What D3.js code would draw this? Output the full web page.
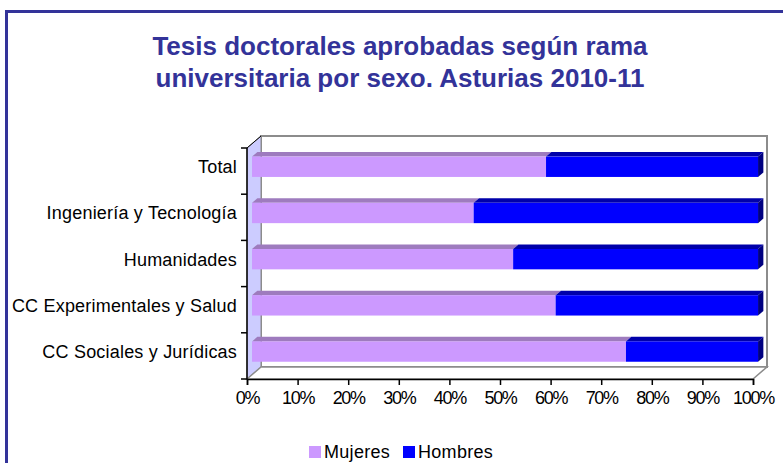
<!DOCTYPE html>
<html>
<head>
<meta charset="utf-8">
<script src="https://cdn.jsdelivr.net/npm/d3@7"></script>
<style>
  html, body { margin: 0; padding: 0; background: #fff; }
  svg { display: block; font-family: "Liberation Sans", Arial, sans-serif; }
</style>
</head>
<body>
<svg id="chart" width="783" height="463"></svg>
<script>
// Tesis doctorales aprobadas por rama y sexo (porcentaje), Asturias 2010-11
const categories = ["Total", "Ingeniería y Tecnología", "Humanidades", "CC Experimentales y Salud", "CC Sociales y Jurídicas"];
const mujeres = [58.1, 43.8, 51.6, 60.0, 73.9];
const hombres = [41.9, 56.2, 48.4, 40.0, 26.1];
const seriesNames = ["Mujeres", "Hombres"];
const xTicks = [0, 10, 20, 30, 40, 50, 60, 70, 80, 90, 100];
const titleLines = ["Tesis doctorales aprobadas según rama", "universitaria por sexo. Asturias 2010-11"];

const colors = {
  Mujeres: { front: "#CC99FF", top: "#9E7BBE", side: "#8E6AAE" },
  Hombres: { front: "#0000FF", top: "#0000AA", side: "#000080" }
};

const svg = d3.select("#chart");

// outer frame
svg.append("rect")
  .attr("x", 6.5).attr("y", 11.5)
  .attr("width", 900).attr("height", 600)
  .attr("fill", "none").attr("stroke", "#333399").attr("stroke-width", 3);

// title
svg.append("text")
  .attr("x", 400).attr("y", 55)
  .attr("text-anchor", "middle")
  .attr("font-size", 26).attr("font-weight", "bold")
  .attr("fill", "#333399")
  .selectAll("tspan").data(titleLines).join("tspan")
  .attr("x", 400).attr("dy", (d, i) => i === 0 ? 0 : 32)
  .text(d => d);

// plot geometry: front plane + depth offset
const x = d3.scaleLinear().domain([0, 100]).range([247, 753]);
const y = d3.scaleBand().domain(categories).range([148, 379]).paddingInner(0.56).paddingOuter(0.28);
const depth = { dx: 14, dy: -12 };
const barFront = 0.36, barBack = 0.74; // bar position within depth

const x0 = x.range()[0], x1 = x.range()[1];
const yTop = y.range()[0], yBot = y.range()[1];

// back wall
svg.append("rect")
  .attr("x", x0 + depth.dx).attr("y", yTop + depth.dy)
  .attr("width", x1 - x0).attr("height", yBot - yTop)
  .attr("fill", "#fff").attr("stroke", "#8c8c8c").attr("stroke-width", 2);

// left side wall
svg.append("path")
  .attr("d", `M${x0},${yTop} L${x0 + depth.dx},${yTop + depth.dy} L${x0 + depth.dx},${yBot + depth.dy} L${x0},${yBot} Z`)
  .attr("fill", "#CCCCFF").attr("stroke", "#8c8c8c").attr("stroke-width", 1);

// floor
svg.append("path")
  .attr("d", `M${x0},${yBot} L${x0 + depth.dx},${yBot + depth.dy} L${x1 + depth.dx},${yBot + depth.dy} L${x1},${yBot} Z`)
  .attr("fill", "#fff").attr("stroke", "#8c8c8c").attr("stroke-width", 1.5);

// stacked data
const rows = categories.map((c, i) => ({ cat: c, Mujeres: mujeres[i], Hombres: hombres[i] }));
const stack = d3.stack().keys(seriesNames)(rows);

const fx = barFront * depth.dx, fy = barFront * depth.dy;
const bx = (barBack - barFront) * depth.dx, by = (barBack - barFront) * depth.dy;
const bw = y.bandwidth();

const bars = svg.append("g");
stack.forEach((layer, li) => {
  const key = layer.key;
  const g = bars.append("g");
  layer.forEach(d => {
    const xa = x(d[0]) + fx, xb = x(d[1]) + fx;
    const yt = y(d.data.cat) + fy;
    // top face
    g.append("path")
      .attr("d", `M${xa},${yt} L${xa + bx},${yt + by} L${xb + bx},${yt + by} L${xb},${yt} Z`)
      .attr("fill", colors[key].top);
    // end face on the last segment
    if (li === stack.length - 1) {
      g.append("path")
        .attr("d", `M${xb},${yt} L${xb + bx},${yt + by} L${xb + bx},${yt + by + bw} L${xb},${yt + bw} Z`)
        .attr("fill", colors[key].side);
    }
    // front face
    g.append("rect")
      .attr("x", xa).attr("y", yt)
      .attr("width", xb - xa).attr("height", bw)
      .attr("fill", colors[key].front);
  });
});

// y axis
const yAxis = svg.append("g");
yAxis.append("line")
  .attr("x1", x0).attr("x2", x0).attr("y1", yTop).attr("y2", yBot)
  .attr("stroke", "#000").attr("stroke-width", 1.5);
yAxis.append("line")
  .attr("x1", x0).attr("x2", x0 + depth.dx).attr("y1", yTop).attr("y2", yTop + depth.dy)
  .attr("stroke", "#000").attr("stroke-width", 1);
const step = y.step();
d3.range(categories.length + 1).forEach(i => {
  const yy = yTop + i * step;
  yAxis.append("line")
    .attr("x1", x0 - 6).attr("x2", x0).attr("y1", yy).attr("y2", yy)
    .attr("stroke", "#000").attr("stroke-width", 1.5);
});
yAxis.selectAll("text.cat").data(categories).join("text")
  .attr("class", "cat")
  .attr("x", 237)
  .attr("y", d => y(d) + fy + bw / 2)
  .attr("dy", "0.36em")
  .attr("text-anchor", "end")
  .attr("font-size", 18)
  .attr("letter-spacing", 0.2)
  .attr("fill", "#000")
  .text(d => d);

// x axis
const xAxisG = svg.append("g").attr("transform", `translate(0,${yBot})`);
xAxisG.call(d3.axisBottom(x).tickValues(xTicks).tickSize(6).tickPadding(6).tickFormat(d => d + "%"));
xAxisG.select(".domain").attr("stroke", "#000").attr("stroke-width", 1.5);
xAxisG.selectAll(".tick line").attr("stroke", "#000").attr("stroke-width", 1.5);
xAxisG.selectAll(".tick text")
  .attr("font-size", 18)
  .attr("font-family", "Liberation Sans, Arial, sans-serif")
  .attr("letter-spacing", -1.3)
  .attr("fill", "#000");

// legend
const legend = svg.append("g").attr("transform", "translate(309,446)");
const legendX = [0, 94];
seriesNames.forEach((name, i) => {
  const lg = legend.append("g").attr("transform", `translate(${legendX[i]},0)`);
  lg.append("rect").attr("width", 12).attr("height", 12).attr("fill", colors[name].front);
  lg.append("text")
    .attr("x", 15).attr("y", 11.5)
    .attr("font-size", 18).attr("letter-spacing", 0.3).attr("fill", "#000")
    .text(name);
});
</script>
</body>
</html>
